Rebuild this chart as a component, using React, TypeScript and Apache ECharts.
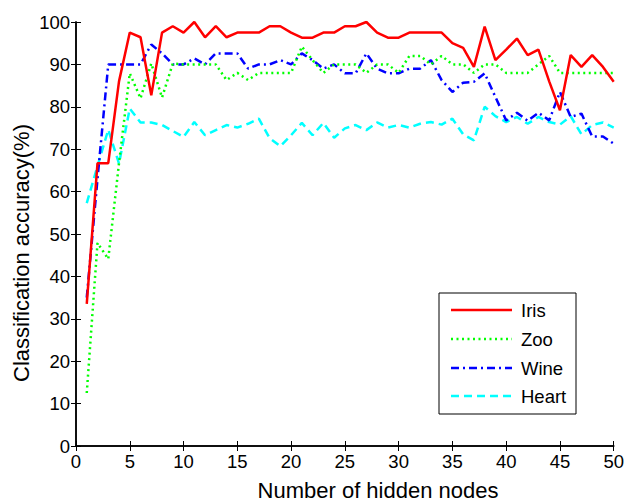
import React, { useEffect, useRef } from "react";
import * as echarts from "echarts";

const nodes: number[] = Array.from({ length: 50 }, (_, i) => i + 1);

const iris: number[] = [
  33.5, 66.7, 66.7, 86, 97.5, 96.4, 82.7, 97.5, 99, 97.5,
  100, 96.4, 99, 96.4, 97.5, 97.5, 97.5, 99, 99, 97.5,
  96.3, 96.3, 97.5, 97.5, 99, 99, 100, 97.5, 96.3, 96.3,
  97.5, 97.5, 97.5, 97.5, 95, 93.9, 89.4, 98.9, 91, 93.5,
  96.1, 92.2, 93.5, 86, 79.2, 92.2, 89.4, 92.2, 89.4, 85.9,
];

const zoo: number[] = [
  12.5, 47.9, 44.1, 66.7, 87.9, 82, 90.2, 82.2, 90.2, 90,
  90, 90, 90, 86.3, 88, 86.3, 88, 88, 88, 88,
  94.2, 91, 88, 90, 90, 90, 88, 90, 90, 88,
  92, 92, 90, 92, 90, 90, 88, 90, 90, 88,
  88, 88, 90, 92, 88, 88, 88, 88, 88, 88,
];

const wine: number[] = [
  35, 63, 90, 90, 90, 90, 94.7, 92.6, 90, 90,
  91.4, 90, 92.6, 92.6, 92.6, 89, 90, 90, 91, 90,
  92.6, 91, 89, 90, 87.9, 87.9, 92.6, 89, 87.9, 87.9,
  89, 89, 91, 86.3, 83.5, 85.7, 85.9, 87.9, 82.3, 76.8,
  78.6, 76.7, 78.6, 76.8, 83.5, 77.6, 78.4, 73, 73, 71.3,
];

const heart: number[] = [
  57.3, 66, 74.6, 66.6, 79.6, 76.3, 76.3, 75.7, 74.3, 72.9,
  76.4, 73.3, 74.5, 75.7, 75.1, 76, 77.2, 72.6, 70.7, 73.3,
  76.2, 73.3, 76.2, 72.7, 74.9, 75.7, 74.5, 76.3, 75.1, 75.7,
  75.1, 76, 76.4, 75.8, 77.2, 73.5, 72.1, 80, 77.8, 76.4,
  77.6, 76, 77.6, 76.4, 75.8, 77.8, 73.5, 75.7, 76.3, 75.1,
];

const seriesNames = ["Iris", "Zoo", "Wine", "Heart"];
const seriesColors = ["#ff0000", "#00ff00", "#0000ff", "#00ffff"];
const seriesDash: (number[] | "solid")[] = ["solid", [2, 3.5], [8, 4, 2, 4], [8, 5]];
const seriesData = [iris, zoo, wine, heart];

const xTitle = "Number of hidden nodes";
const yTitle = "Classification accuracy(%)";

const FONT = "Liberation Sans, Arial, sans-serif";

export default function App() {
  const ref = useRef<HTMLDivElement>(null);

  useEffect(() => {
    if (!ref.current) return;
    const chart = echarts.init(ref.current, undefined, { renderer: "svg" });

    const axisCommon = {
      axisLine: { show: true, lineStyle: { color: "#000", width: 1.5 } },
      axisTick: { show: true, inside: true, length: 5, lineStyle: { color: "#000", width: 1 } },
      splitLine: { show: false },
    };

    const legendX0 = 439;
    const legendY0 = 293;
    const rowYs = [310, 339, 368, 396];
    const graphics: any[] = [
      {
        type: "rect",
        shape: { x: legendX0, y: legendY0, width: 137, height: 121 },
        style: { fill: "#fff", stroke: "#000", lineWidth: 1 },
        z: 100,
      },
      {
        type: "text",
        x: 378,
        y: 490.5,
        style: {
          text: xTitle,
          fill: "#000",
          font: `22px ${FONT}`,
          align: "center",
          verticalAlign: "middle",
        },
        z: 101,
      },
      {
        type: "text",
        x: 21,
        y: 253,
        rotation: Math.PI / 2,
        style: {
          text: yTitle,
          fill: "#000",
          font: `22px ${FONT}`,
          align: "center",
          verticalAlign: "middle",
        },
        z: 101,
      },
    ];
    seriesNames.forEach((name, i) => {
      graphics.push({
        type: "line",
        shape: { x1: 451, y1: rowYs[i], x2: 512, y2: rowYs[i] },
        style: {
          stroke: seriesColors[i],
          lineWidth: 2.5,
          lineDash: seriesDash[i] === "solid" ? null : seriesDash[i],
        },
        z: 101,
      });
      graphics.push({
        type: "text",
        x: 521,
        y: rowYs[i],
        style: {
          text: name,
          fill: "#000",
          font: `18.5px ${FONT}`,
          verticalAlign: "middle",
        },
        z: 101,
      });
    });

    chart.setOption({
      animation: false,
      backgroundColor: "#fff",
      textStyle: { fontFamily: FONT },
      grid: { left: 76, right: 13, top: 22, bottom: 56, containLabel: false },
      xAxis: [
        {
          type: "value",
          min: 0,
          max: 50,
          interval: 5,
          position: "bottom",
          axisLabel: { fontSize: 18.5, color: "#000", margin: 6, fontFamily: FONT },
          ...axisCommon,
        },
        {
          type: "value",
          min: 0,
          max: 50,
          interval: 5,
          position: "top",
          axisLabel: { show: false },
          ...axisCommon,
        },
      ],
      yAxis: [
        {
          type: "value",
          min: 0,
          max: 100,
          interval: 10,
          position: "left",
          axisLabel: { fontSize: 18.5, color: "#000", margin: 6, fontFamily: FONT },
          ...axisCommon,
        },
        {
          type: "value",
          min: 0,
          max: 100,
          interval: 10,
          position: "right",
          axisLabel: { show: false },
          ...axisCommon,
        },
      ],
      series: seriesNames.map((name, i) => ({
        name,
        type: "line",
        xAxisIndex: 0,
        yAxisIndex: 0,
        data: nodes.map((n, j) => [n, seriesData[i][j]]),
        symbol: "none",
        smooth: false,
        lineStyle: { color: seriesColors[i], width: 2.5, type: seriesDash[i] },
        itemStyle: { color: seriesColors[i] },
        z: 10 - i,
      })),
      graphic: graphics,
    });

    return () => chart.dispose();
  }, []);

  return (
    <div
      ref={ref}
      style={{ position: "absolute", left: 0, top: 0, width: 627, height: 502 }}
    />
  );
}
